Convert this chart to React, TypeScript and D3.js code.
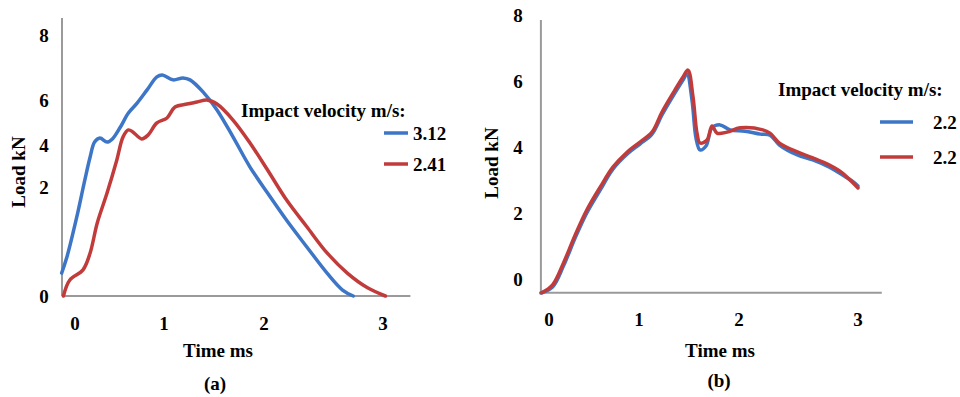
import React, { useEffect, useRef } from 'react';
import * as d3 from 'd3';

// panel (a): time ms / load kN
const aBlueT = [-0.15, -0.09, 0.02, 0.11, 0.17, 0.22, 0.28, 0.36, 0.42, 0.51, 0.6, 0.7, 0.81, 0.92, 0.98, 1.09, 1.19, 1.26, 1.39, 1.53, 1.69, 1.86, 2.03, 2.19, 2.36, 2.53, 2.66, 2.75];
const aBlueL = [0.42, 0.72, 1.45, 2.33, 3.43, 4.13, 4.31, 4.13, 4.27, 4.8, 5.42, 5.87, 6.31, 6.71, 6.77, 6.62, 6.68, 6.62, 6.25, 5.56, 4.36, 2.95, 1.89, 1.39, 0.9, 0.42, 0.11, 0];
const aRedT = [-0.13, -0.06, 0.09, 0.17, 0.25, 0.36, 0.47, 0.54, 0.6, 0.65, 0.75, 0.82, 0.92, 1.03, 1.11, 1.23, 1.33, 1.43, 1.53, 1.69, 1.86, 2.03, 2.19, 2.36, 2.53, 2.7, 2.87, 3.02];
const aRedL = [0, 0.29, 0.48, 0.79, 1.34, 1.89, 3.29, 4.36, 4.67, 4.58, 4.27, 4.44, 4.98, 5.2, 5.69, 5.82, 5.91, 6.0, 5.82, 5.11, 4.09, 2.81, 1.76, 1.27, 0.79, 0.42, 0.15, 0];

// panel (b)
const bBlueT = [-0.09, 0.04, 0.16, 0.29, 0.42, 0.57, 0.71, 0.87, 1.01, 1.13, 1.23, 1.36, 1.44, 1.48, 1.53, 1.57, 1.61, 1.67, 1.73, 1.81, 1.91, 2.05, 2.18, 2.26, 2.34, 2.49, 2.62, 2.76, 2.87, 2.95, 3.0];
const bBlueL = [-0.42, -0.24, 0.39, 1.24, 2.0, 2.7, 3.33, 3.79, 4.09, 4.39, 4.97, 5.64, 6.03, 6.21, 5.42, 4.27, 3.91, 4.03, 4.58, 4.67, 4.52, 4.48, 4.39, 4.36, 4.06, 3.76, 3.61, 3.39, 3.15, 2.97, 2.82];
const bRedT = [-0.08, 0.04, 0.16, 0.29, 0.42, 0.57, 0.71, 0.87, 1.01, 1.13, 1.23, 1.36, 1.44, 1.49, 1.54, 1.58, 1.61, 1.68, 1.73, 1.78, 1.88, 2.01, 2.2, 2.26, 2.34, 2.49, 2.62, 2.76, 2.87, 2.95, 3.0];
const bRedL = [-0.42, -0.18, 0.48, 1.33, 2.09, 2.79, 3.39, 3.85, 4.15, 4.45, 5.06, 5.73, 6.12, 6.33, 5.52, 4.42, 4.12, 4.21, 4.64, 4.42, 4.45, 4.58, 4.52, 4.42, 4.12, 3.85, 3.67, 3.45, 3.21, 2.94, 2.76];

const xTicks = [0, 1, 2, 3];
const yTicks = [0, 2, 4, 6, 8];
const aLegend = ['3.12', '2.41'];
const bLegend = ['2.2', '2.2'];

const BLUE = '#3d76c6';
const RED = '#c23b3b';
const FONT = '"Liberation Serif", "Times New Roman", serif';

const App = () => {
  const ref = useRef(null);

  useEffect(() => {
    const svg = d3.select(ref.current);
    svg.selectAll('*').remove();

    const panels = [
      {
        x: d3.scaleLinear().domain([0, 1, 2, 3]).range([75, 164, 264, 383]),
        y: d3.scaleLinear().domain([0, 2, 4, 6, 8]).range([296, 187, 145, 100, 35]),
        xMin: -0.146, xMax: 3.23, yMin: 0, yMax: 8.52,
        yLabX: 44, xLabY: 323,
        series: [[aBlueT, aBlueL, BLUE], [aRedT, aRedL, RED]],
        legend: aLegend,
        legTitle: [241, 110], legLine: [384, 408], legY: [133, 164], legText: 413,
        title: [218, 350], caption: [215, 383], caption_t: '(a)', yTitle: [18, 172]
      },
      {
        x: d3.scaleLinear().domain([0, 1, 2, 3]).range([549, 639, 739, 858]),
        y: d3.scaleLinear().domain([0, 8]).range([279, 15]),
        xMin: -0.09, xMax: 3.2, yMin: -0.42, yMax: 7.85,
        yLabX: 518, xLabY: 319,
        series: [[bBlueT, bBlueL, BLUE], [bRedT, bRedL, RED]],
        legend: bLegend,
        legTitle: [778, 89], legLine: [880, 913], legY: [122, 157], legText: 933,
        title: [720, 350], caption: [719, 380], caption_t: '(b)', yTitle: [491, 163]
      }
    ];

    panels.forEach(p => {
      const g = svg.append('g').attr('font-family', FONT).attr('font-weight', 'bold').attr('font-size', 19);

      // axes lines
      g.append('line')
        .attr('x1', p.x(p.xMin)).attr('x2', p.x(p.xMin))
        .attr('y1', p.y(p.yMin)).attr('y2', p.y(p.yMax))
        .attr('stroke', '#9a9a9a').attr('stroke-width', 2);
      g.append('line')
        .attr('x1', p.x(p.xMin)).attr('x2', p.x(p.xMax))
        .attr('y1', p.y(p.yMin)).attr('y2', p.y(p.yMin))
        .attr('stroke', '#9a9a9a').attr('stroke-width', 2);

      // tick labels
      yTicks.forEach(v => {
        g.append('text').attr('x', p.yLabX).attr('y', p.y(v)).attr('dy', '0.35em')
          .attr('text-anchor', 'middle').text(v);
      });
      xTicks.forEach(v => {
        g.append('text').attr('x', p.x(v)).attr('y', p.xLabY).attr('dy', '0.35em')
          .attr('text-anchor', 'middle').text(v);
      });

      // curves
      const line = d3.line().curve(d3.curveCatmullRom.alpha(0.5));
      p.series.forEach(([ts, ls, color]) => {
        g.append('path')
          .attr('d', line(ts.map((t, i) => [p.x(t), p.y(ls[i])])))
          .attr('fill', 'none').attr('stroke', color)
          .attr('stroke-width', 3.5).attr('stroke-linejoin', 'round').attr('stroke-linecap', 'round');
      });

      // titles
      g.append('text').attr('x', p.title[0]).attr('y', p.title[1]).attr('dy', '0.35em')
        .attr('text-anchor', 'middle').text('Time ms');
      g.append('text').attr('x', p.caption[0]).attr('y', p.caption[1]).attr('dy', '0.35em')
        .attr('text-anchor', 'middle').text(p.caption_t);
      g.append('text')
        .attr('transform', `translate(${p.yTitle[0]},${p.yTitle[1]}) rotate(-90)`)
        .attr('dy', '0.35em').attr('text-anchor', 'middle').text('Load kN');

      // legend
      g.append('text').attr('x', p.legTitle[0]).attr('y', p.legTitle[1]).attr('dy', '0.35em')
        .text('Impact velocity m/s:');
      p.series.forEach(([, , color], i) => {
        g.append('line')
          .attr('x1', p.legLine[0]).attr('x2', p.legLine[1])
          .attr('y1', p.legY[i]).attr('y2', p.legY[i])
          .attr('stroke', color).attr('stroke-width', 3.5);
        g.append('text').attr('x', p.legText).attr('y', p.legY[i]).attr('dy', '0.35em')
          .text(p.legend[i]);
      });
    });
  }, []);

  return (
    <svg ref={ref} width={960} height={397}
      style={{ position: 'absolute', left: 0, top: 0, background: '#fff' }} />
  );
};

export default App;
